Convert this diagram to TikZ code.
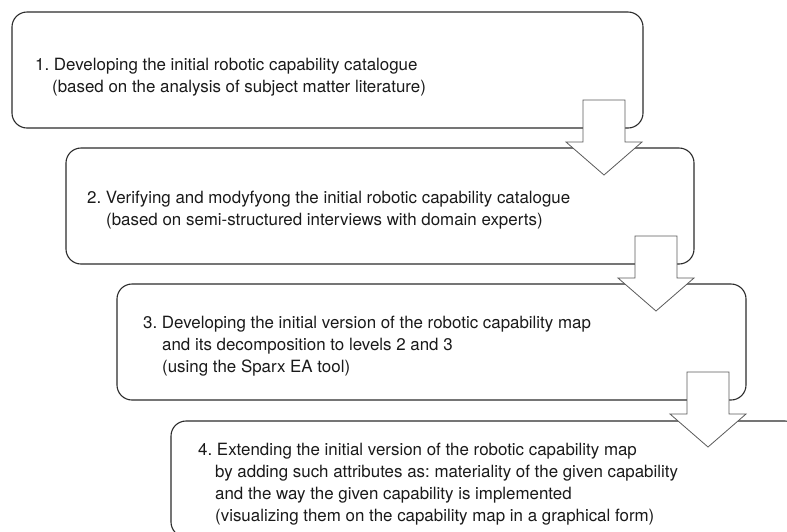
\documentclass[tikz,border=0pt]{standalone}
\usepackage{fontspec}
\setmainfont{TeX Gyre Heros}
\usetikzlibrary{calc}
\definecolor{boxline}{HTML}{2B2B2B}
\definecolor{arrline}{HTML}{5A5A5A}
\definecolor{txt}{HTML}{1A1A1A}
\frenchspacing
\begin{document}
\begin{tikzpicture}[x=1pt,y=-1pt,
  stagebox/.style={draw=boxline, line width=1.1pt, rounded corners=15pt,
    minimum width=629pt, minimum height=116pt, anchor=north west,
    inner sep=0pt, outer sep=0pt},
  stagetext/.style={anchor=base west, inner sep=0pt, text=txt,
    font=\fontsize{16.9}{22}\selectfont},
  blockarrow/.style={draw=arrline, fill=white, line width=0.8pt, line join=miter},
  pics/stagearrow/.style={code={
    \draw[blockarrow] (-21,0) -- (21,0) -- (21,42) -- (38,42) -- (0,75)
      -- (-38,42) -- (-21,42) -- cycle;}}]
\useasboundingbox (0,0) rectangle (787,531);
\begin{scope}
\clip (0,0) rectangle (787,531);
% boxes
\node[stagebox, minimum width=631pt] (b1) at (12,12) {};
\node[stagebox, minimum width=628pt] (b2) at (66,148) {};
\node[stagebox] (b3) at (117,284) {};
\node[stagebox] (b4) at (171,421) {};
% arrows
\pic at ($(b1.south east)+(-39,-28)$) {stagearrow};
\pic at ($(b2.south east)+(-38,-28)$) {stagearrow};
\pic at ($(b3.south east)+(-38,-28)$) {stagearrow};
% texts
\node[stagetext] (t1a) at ($(b1.north west)+(23,58)$) {1. Developing the initial robotic capability catalogue};
\node[stagetext] (t1b) at ($(b1.north west)+(40,80)$) {(based on the analysis of subject matter literature)};
\node[stagetext] (t2a) at ($(b2.north west)+(21,55)$) {2. Verifying and modyfyong the initial robotic capability catalogue};
\node[stagetext] (t2b) at ($(b2.north west)+(40,77)$) {(based on semi-structured interviews with domain experts)};
\node[stagetext] (t3a) at ($(b3.north west)+(26,44)$) {3. Developing the initial version of the robotic capability map};
\node[stagetext] (t3b) at ($(b3.north west)+(45,66)$) {and its decomposition to levels 2 and 3};
\node[stagetext] (t3c) at ($(b3.north west)+(45,88)$) {(using the Sparx EA tool)};
\node[stagetext] (t4a) at ($(b4.north west)+(27,34)$) {4. Extending the initial version of the robotic capability map};
\node[stagetext] (t4b) at ($(b4.north west)+(44,56)$) {by adding such attributes as: materiality of the given capability};
\node[stagetext] (t4c) at ($(b4.north west)+(44,78)$) {and the way the given capability is implemented};
\node[stagetext] (t4d) at ($(b4.north west)+(44,100)$) {(visualizing them on the capability map in a graphical form)};
\end{scope}
\end{tikzpicture}
\end{document}
